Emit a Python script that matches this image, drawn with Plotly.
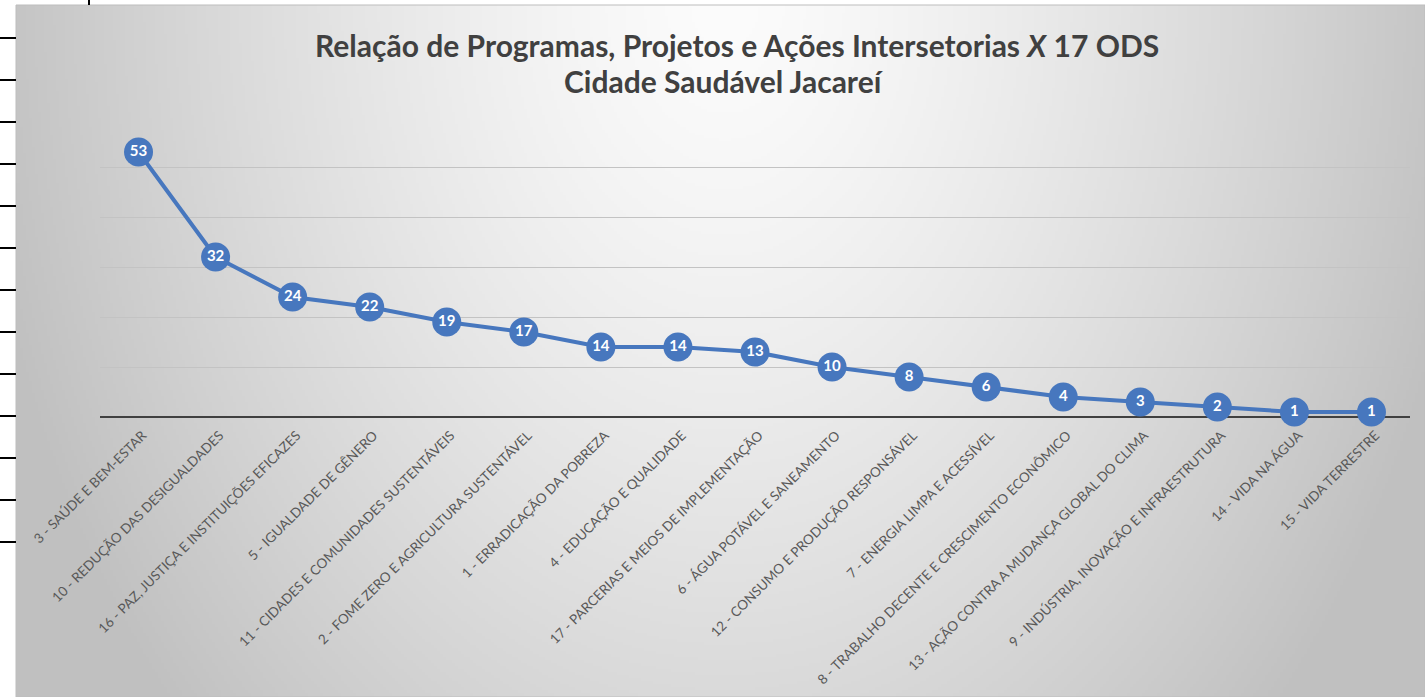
import base64, struct, zlib
import numpy as np
import plotly.graph_objects as go

categories = [
    "3 - SAÚDE E BEM-ESTAR",
    "10 - REDUÇÃO DAS DESIGUALDADES",
    "16 - PAZ, JUSTIÇA E INSTITUIÇÕES EFICAZES",
    "5 - IGUALDADE DE GÊNERO",
    "11 - CIDADES E COMUNIDADES SUSTENTÁVEIS",
    "2 - FOME ZERO E AGRICULTURA SUSTENTÁVEL",
    "1 - ERRADICAÇÃO DA POBREZA",
    "4 - EDUCAÇÃO E QUALIDADE",
    "17 - PARCERIAS E MEIOS DE IMPLEMENTAÇÃO",
    "6 - ÁGUA POTÁVEL E SANEAMENTO",
    "12 - CONSUMO E PRODUÇÃO RESPONSÁVEL",
    "7 - ENERGIA LIMPA E ACESSÍVEL",
    "8 - TRABALHO DECENTE E CRESCIMENTO ECONÔMICO",
    "13 - AÇÃO CONTRA A MUDANÇA GLOBAL DO CLIMA",
    "9 - INDÚSTRIA, INOVAÇÃO E INFRAESTRUTURA",
    "14 - VIDA NA ÁGUA",
    "15 - VIDA TERRESTRE",
]
values = [53, 32, 24, 22, 19, 17, 14, 14, 13, 10, 8, 6, 4, 3, 2, 1, 1]

title_line1 = "Relação de Programas, Projetos e Ações Intersetorias <i>X</i> 17 ODS"
title_line2 = "Cidade Saudável Jacareí"

W, H = 1425, 697
IMG_X0, IMG_Y0 = 16, 5

# ---- radial gradient background as PNG ----
def gradient_png():
    w, h = 470, 231
    sx = (W - IMG_X0) / w
    sy = (H - IMG_Y0) / h
    xs = (np.arange(w) + 0.5) * sx + IMG_X0
    ys = (np.arange(h) + 0.5) * sy + IMG_Y0
    X, Y = np.meshgrid(xs, ys)
    cx, cy = 725.0, 0.0
    d = np.sqrt(((X - cx) / 720.0) ** 2 + ((Y - cy) / 1000.0) ** 2)
    t = np.clip(d, 0, 1.05)
    val = 252 - (252 - 196) * (t ** 1.35)
    arr = np.clip(val, 0, 255).astype(np.uint8)
    raw = b"".join(b"\x00" + row.tobytes() for row in arr)
    def chunk(tag, data):
        c = struct.pack(">I", len(data)) + tag + data
        return c + struct.pack(">I", zlib.crc32(tag + data) & 0xFFFFFFFF)
    png = b"\x89PNG\r\n\x1a\n"
    png += chunk(b"IHDR", struct.pack(">IIBBBBB", w, h, 8, 0, 0, 0, 0))
    png += chunk(b"IDAT", zlib.compress(raw, 9))
    png += chunk(b"IEND", b"")
    return "data:image/png;base64," + base64.b64encode(png).decode()

blue = "#4777BE"

fig = go.Figure()
fig.add_trace(go.Scatter(
    x=categories, y=values,
    mode="lines+markers+text",
    line=dict(color=blue, width=4),
    marker=dict(size=29, color=blue, line=dict(width=0)),
    text=[str(v) for v in values],
    textposition="middle center",
    textfont=dict(family="Lato", size=15, color="white", weight="bold"),
    cliponaxis=False,
    hoverinfo="x+y",
))

# plot-area geometry (pixels)
x_left, x_right = 100, 1410
y_top, y_zero = 117, 417

shapes = []
# left table lines
for yy in [38, 80, 122, 164, 206, 248, 290, 332, 374, 416, 458, 500, 542]:
    shapes.append(dict(type="line", xref="paper", yref="paper",
                       x0=0, x1=IMG_X0 / W, y0=1 - yy / H, y1=1 - yy / H,
                       line=dict(color="black", width=2)))
shapes.append(dict(type="line", xref="paper", yref="paper",
                   x0=89 / W, x1=89 / W, y0=1, y1=1 - IMG_Y0 / H,
                   line=dict(color="black", width=2)))
# chart border
shapes.append(dict(type="rect", xref="paper", yref="paper", layer="below",
                   x0=IMG_X0 / W, x1=1, y0=0, y1=1 - IMG_Y0 / H,
                   line=dict(color="#bdbdbd", width=1)))

fig.update_layout(
    width=W, height=H,
    autosize=False,
    margin=dict(l=0, r=0, t=0, b=0, pad=0, autoexpand=False),
    paper_bgcolor="white",
    plot_bgcolor="rgba(0,0,0,0)",
    showlegend=False,
    images=[dict(source=gradient_png(), xref="paper", yref="paper",
                 x=IMG_X0 / W, y=1 - IMG_Y0 / H, sizex=1 - IMG_X0 / W,
                 sizey=1 - IMG_Y0 / H, xanchor="left", yanchor="top",
                 sizing="stretch", layer="below")],
    shapes=shapes,
    xaxis=dict(
        domain=[x_left / W, x_right / W],
        range=[-0.5, len(categories) - 0.5],
        tickangle=-45,
        tickfont=dict(family="Lato", size=13.5, color="#595959"),
        showgrid=False, showline=False, zeroline=False,
        ticks="", automargin=False,
        ticklabelstandoff=7, ticklabelshift=4,
    ),
    yaxis=dict(
        domain=[1 - y_zero / H, 1 - y_top / H],
        range=[0, 60],
        dtick=10,
        showticklabels=False,
        showgrid=True, gridcolor="#c3c3c3", gridwidth=1,
        zeroline=True, zerolinecolor="#404040", zerolinewidth=2,
        showline=False, automargin=False,
    ),
    annotations=[
        dict(text=title_line1, xref="paper", yref="paper",
             x=737 / W, y=1 - 45 / H, xanchor="center", yanchor="middle",
             showarrow=False,
             font=dict(family="Lato", size=30, color="#404040", weight="bold")),
        dict(text=title_line2, xref="paper", yref="paper",
             x=724 / W, y=1 - 81 / H, xanchor="center", yanchor="middle",
             showarrow=False,
             font=dict(family="Lato", size=30, color="#404040", weight="bold")),
    ],
)

fig.write_html(
    "out.html",
    config={"displayModeBar": False},
    post_script="document.body.style.margin='0';document.body.style.overflow='hidden';",
)
